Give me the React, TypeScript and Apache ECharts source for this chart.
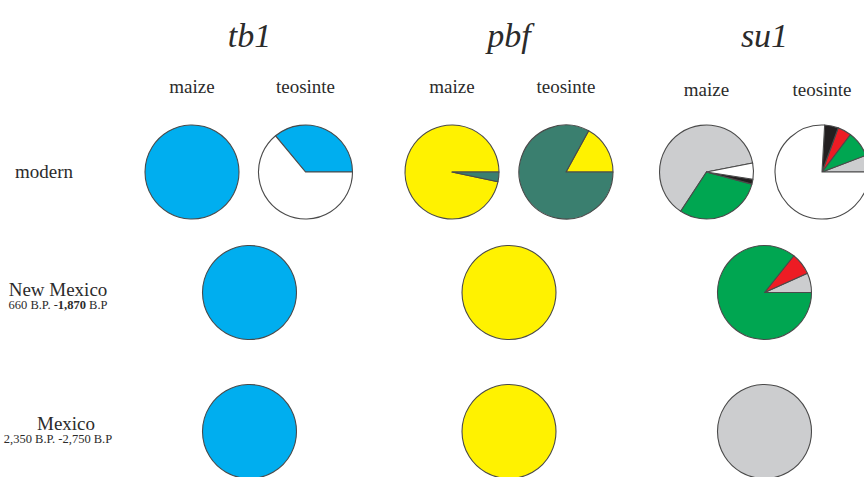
import React, { useEffect, useRef } from "react";
import * as echarts from "echarts";

// ---- data ----
const genes = ["tb1", "pbf", "su1"];
const rowLabels = ["modern", "New Mexico", "Mexico"];
const rowSubLabels = ["", "660 B.P. -{b|1,870} B.P", "2,350 B.P. -2,750 B.P"];
const columnLabels = ["maize", "teosinte"];

const tb1Alleles = ["tb1-a", "tb1-b"];
const pbfAlleles = ["pbf-a", "pbf-b"];
const su1Alleles = ["su1-a", "su1-b", "su1-c", "su1-d", "su1-e"];

const tb1Colors = ["#00aeef", "#ffffff"];
const pbfColors = ["#fff200", "#3a7f6f"];
const su1Colors = ["#cccdcf", "#00a651", "#ed1c24", "#231f20", "#ffffff"];

// values in allele order (percent)
const tb1ModernMaize = [100, 0];
const tb1ModernTeosinte = [36, 64];
const tb1NewMexico = [100, 0];
const tb1Mexico = [100, 0];

const pbfModernMaize = [96.7, 3.3];
const pbfModernTeosinte = [17, 83];
const pbfNewMexico = [100, 0];
const pbfMexico = [100, 0];

const su1ModernMaize = [62.7, 30.1, 0, 1.7, 5.5];
const su1ModernTeosinte = [5.8, 8.9, 4.7, 4.7, 75.9];
const su1NewMexico = [6.7, 85.7, 7.6, 0, 0];
const su1Mexico = [100, 0, 0, 0, 0];

// drawing order (counter-clockwise) and start angle for each pie
const su1NewMexicoOrder = [0, 2, 1, 3, 4];
const su1ModernMaizeStart = 11;

type PieSpec = {
  values: number[];
  alleles: string[];
  colors: string[];
  cx: number;
  cy: number;
  start?: number;
  order?: number[];
};

export default function App() {
  const ref = useRef<HTMLDivElement>(null);

  useEffect(() => {
    if (!ref.current) return;
    const chart = echarts.init(ref.current, undefined, { renderer: "svg" });

    const R = 47;
    const colX = [
      [192, 305.5],
      [452, 566],
      [706.5, 822],
    ];
    const singleX = [249.5, 509, 764.5];
    const rowY = [172, 292.5, 431.5];

    const pies: PieSpec[] = [
      { values: tb1ModernMaize, alleles: tb1Alleles, colors: tb1Colors, cx: colX[0][0], cy: rowY[0] },
      { values: tb1ModernTeosinte, alleles: tb1Alleles, colors: tb1Colors, cx: colX[0][1], cy: rowY[0] },
      { values: tb1NewMexico, alleles: tb1Alleles, colors: tb1Colors, cx: singleX[0], cy: rowY[1] },
      { values: tb1Mexico, alleles: tb1Alleles, colors: tb1Colors, cx: singleX[0], cy: rowY[2] },
      { values: pbfModernMaize, alleles: pbfAlleles, colors: pbfColors, cx: colX[1][0], cy: rowY[0] },
      { values: pbfModernTeosinte, alleles: pbfAlleles, colors: pbfColors, cx: colX[1][1], cy: rowY[0] },
      { values: pbfNewMexico, alleles: pbfAlleles, colors: pbfColors, cx: singleX[1], cy: rowY[1] },
      { values: pbfMexico, alleles: pbfAlleles, colors: pbfColors, cx: singleX[1], cy: rowY[2] },
      { values: su1ModernMaize, alleles: su1Alleles, colors: su1Colors, cx: colX[2][0], cy: rowY[0], start: su1ModernMaizeStart },
      { values: su1ModernTeosinte, alleles: su1Alleles, colors: su1Colors, cx: colX[2][1], cy: rowY[0] },
      { values: su1NewMexico, alleles: su1Alleles, colors: su1Colors, cx: singleX[2], cy: rowY[1], order: su1NewMexicoOrder },
      { values: su1Mexico, alleles: su1Alleles, colors: su1Colors, cx: singleX[2], cy: rowY[2] },
    ];

    const series: any[] = pies.map((p) => {
      const order = p.order || p.values.map((_, i) => i);
      const data = order
        .filter((i) => p.values[i] > 0)
        .map((i) => ({
          name: p.alleles[i],
          value: p.values[i],
          itemStyle: { color: p.colors[i] },
        }));
      return {
        type: "pie",
        center: [p.cx, p.cy],
        radius: [0, R],
        startAngle: p.start ?? 0,
        clockwise: false,
        silent: true,
        label: { show: false },
        labelLine: { show: false },
        emphasis: { disabled: true },
        itemStyle: { borderColor: "#4a4a4a", borderWidth: 1.1 },
        data,
      };
    });

    const serif = "'Liberation Serif', 'DejaVu Serif', serif";
    const textColor = "#2b2b2b";
    const graphics: any[] = [];

    genes.forEach((g, gi) => {
      graphics.push({
        type: "text",
        x: singleX[gi],
        y: 35,
        style: {
          text: g,
          font: `italic 34px ${serif}`,
          fill: textColor,
          align: "center",
          verticalAlign: "middle",
        },
      });
      columnLabels.forEach((c, ci) => {
        graphics.push({
          type: "text",
          x: colX[gi][ci],
          y: gi === 2 ? 89 : 86,
          style: {
            text: c,
            font: `19px ${serif}`,
            fill: textColor,
            align: "center",
            verticalAlign: "middle",
          },
        });
      });
    });

    const rowLabelX = [44, 58, 66];
    const rowLabelY = [171, 289, 423];
    rowLabels.forEach((r, ri) => {
      graphics.push({
        type: "text",
        x: rowLabelX[ri],
        y: rowLabelY[ri],
        style: {
          text: r,
          font: `19px ${serif}`,
          fill: textColor,
          align: "center",
          verticalAlign: "middle",
        },
      });
      if (rowSubLabels[ri]) {
        graphics.push({
          type: "text",
          x: 58,
          y: rowLabelY[ri] + 16,
          style: {
            text: rowSubLabels[ri],
            font: `12.5px ${serif}`,
            fill: textColor,
            align: "center",
            verticalAlign: "middle",
            rich: {
              b: { fontWeight: "bold", fontSize: 12.5, fontFamily: serif, fill: textColor },
            },
          },
        });
      }
    });

    chart.setOption({
      animation: false,
      backgroundColor: "#ffffff",
      series,
      graphic: graphics,
    });

    return () => chart.dispose();
  }, []);

  return (
    <div
      ref={ref}
      style={{ position: "fixed", left: 0, top: 0, width: 864, height: 477 }}
    />
  );
}
